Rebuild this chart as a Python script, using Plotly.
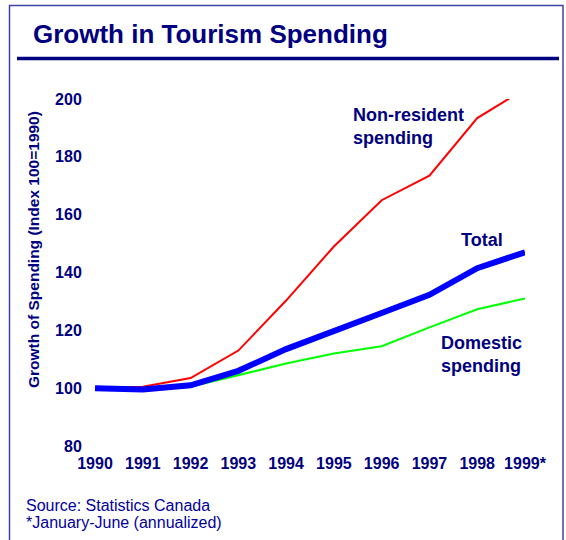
import plotly.graph_objects as go

years = [1990, 1991, 1992, 1993, 1994, 1995, 1996, 1997, 1998, 1999]
year_labels = ["1990", "1991", "1992", "1993", "1994", "1995", "1996", "1997", "1998", "1999*"]
non_resident = [100, 100.5, 103.5, 113, 130.3, 149, 165, 173.5, 193.4, 203.5]
total = [100, 99.5, 101, 106, 113.5, 120, 126, 132.3, 141.5, 147]
domestic = [100, 99.5, 100.5, 104.5, 108.5, 112, 114.5, 121, 127.3, 131]
y_ticks = [80, 100, 120, 140, 160, 180, 200]

W, H = 566, 540
L, R, T, B = 95, 41, 99, 94
PW, PH = W - L - R, H - T - B


def px(x):
    return (x - L) / PW


def py(y):
    return (H - B - y) / PH


NAVY = "#000080"
FONT = "Arial, Liberation Sans, sans-serif"

fig = go.Figure()
fig.add_trace(go.Scatter(x=years, y=domestic, mode="lines",
                         line=dict(color="#00FF00", width=2), name="Domestic spending"))
fig.add_trace(go.Scatter(x=years, y=non_resident, mode="lines",
                         line=dict(color="#FF0000", width=2), name="Non-resident spending"))
fig.add_trace(go.Scatter(x=years, y=total, mode="lines",
                         line=dict(color="#0000FF", width=6), name="Total"))

fig.update_layout(
    width=W, height=H,
    margin=dict(l=L, r=R, t=T, b=B),
    paper_bgcolor="white", plot_bgcolor="white",
    showlegend=False,
    font=dict(family=FONT, color=NAVY),
    xaxis=dict(range=[1990, 1999], tickvals=years, ticktext=year_labels,
               showgrid=False, zeroline=False, showline=False,
               ticks="outside", ticklen=3, tickcolor="white",
               tickfont=dict(size=16, color=NAVY, family=FONT, weight="bold")),
    yaxis=dict(range=[80, 200], tickvals=y_ticks,
               showgrid=False, zeroline=False, showline=False,
               ticks="outside", ticklen=9, tickcolor="white",
               tickfont=dict(size=16, color=NAVY, family=FONT, weight="bold")),
)

shapes = [
    dict(type="rect", xref="paper", yref="paper",
         x0=px(9.5), x1=px(563), y0=py(560), y1=py(5.5),
         line=dict(color="#4040A8", width=1.5), fillcolor="rgba(0,0,0,0)", layer="below"),
    dict(type="line", xref="paper", yref="paper",
         x0=px(17), x1=px(559), y0=py(58.5), y1=py(58.5),
         line=dict(color=NAVY, width=3.5)),
]
fig.update_layout(shapes=shapes)

ann = [
    dict(text="<b>Growth in Tourism Spending</b>", x=px(31), y=py(34),
         xanchor="left", yanchor="middle", font=dict(size=26, color=NAVY)),
    dict(text="<b>Growth of Spending (Index 100=1990)</b>", x=px(33), y=py(250),
         xanchor="center", yanchor="middle", textangle=-90, font=dict(size=15.5, color=NAVY)),
    dict(text="<b>Non-resident<br>spending</b>", x=px(351), y=py(127),
         xanchor="left", yanchor="middle", align="left", font=dict(size=18, color=NAVY)),
    dict(text="<b>Total</b>", x=px(482), y=py(240),
         xanchor="center", yanchor="middle", font=dict(size=18, color=NAVY)),
    dict(text="<b>Domestic<br>spending</b>", x=px(439), y=py(354),
         xanchor="left", yanchor="middle", align="left", font=dict(size=18, color=NAVY)),
    dict(text="Source: Statistics Canada", x=px(24), y=py(505),
         xanchor="left", yanchor="middle", font=dict(size=16, color="#0000A0")),
    dict(text="*January-June (annualized)", x=px(24), y=py(522),
         xanchor="left", yanchor="middle", font=dict(size=16, color="#0000A0")),
]
for a in ann:
    a.update(xref="paper", yref="paper", showarrow=False)
fig.update_layout(annotations=ann)

fig.write_html("out.html")
